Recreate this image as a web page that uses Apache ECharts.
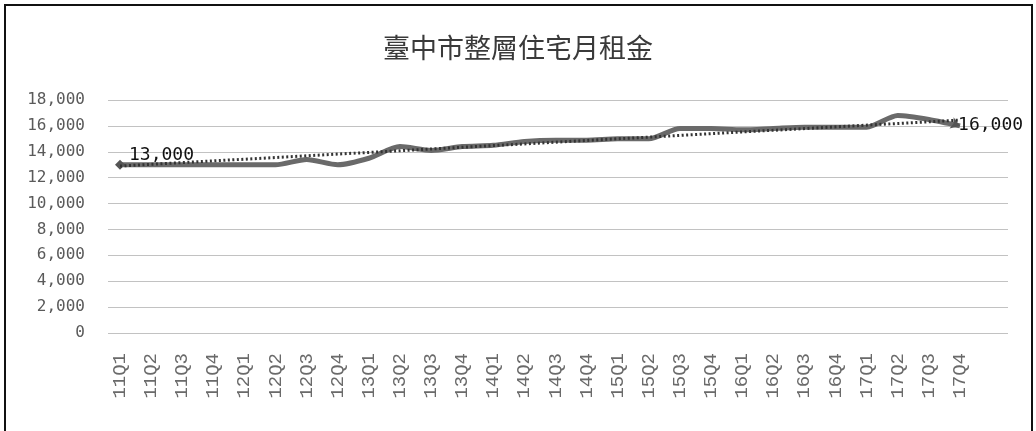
<!DOCTYPE html>
<html>
<head>
<meta charset="utf-8">
<script src="https://cdn.jsdelivr.net/npm/echarts@6/dist/echarts.min.js"></script>
<style>
  html, body { margin: 0; padding: 0; background: #fff; }
  #chart { width: 1036px; height: 431px; }
</style>
</head>
<body>
<div id="chart"></div>
<script>
// Quarterly labels (ROC year + quarter)
const categories = [
  '11Q1','11Q2','11Q3','11Q4','12Q1','12Q2','12Q3','12Q4',
  '13Q1','13Q2','13Q3','13Q4','14Q1','14Q2','14Q3','14Q4',
  '15Q1','15Q2','15Q3','15Q4','16Q1','16Q2','16Q3','16Q4',
  '17Q1','17Q2','17Q3','17Q4'
];

// Monthly rent for whole-floor residences, Taichung (NT$)
const rents = [
  13000, 13000, 13000, 13000, 13000, 13000, 13400, 13000,
  13500, 14400, 14100, 14400, 14500, 14800, 14900, 14900,
  15000, 15000, 15800, 15800, 15700, 15800, 15900, 15900,
  15900, 16800, 16500, 16000
];

// Linear trend line end values (first and last quarter)
const trendStart = 12900;
const trendEnd = 16450;

// Value axis range and step
const yMin = 0;
const yMax = 18000;
const yStep = 2000;

const fmt = v => String(v).replace(/\B(?=(\d{3})+(?!\d))/g, ',');

const last = rents.length - 1;
const lineData = rents.map((v, i) => {
  if (i === 0) {
    return {
      value: v, symbol: 'diamond', symbolSize: 10,
      label: { show: true, position: 'right', distance: 4, offset: [0, -9] }
    };
  }
  if (i === last) {
    return {
      value: v, symbol: 'arrow', symbolRotate: -110, symbolSize: 9,
      label: { show: true, position: 'right', distance: 0, offset: [-4, 1] }
    };
  }
  return { value: v, symbol: 'none' };
});

const chart = echarts.init(document.getElementById('chart'), null, { renderer: 'canvas' });

chart.setOption({
  backgroundColor: '#ffffff',
  animation: false,
  title: {
    text: '臺中市整層住宅月租金',
    left: 'center',
    top: 29,
    textStyle: {
      fontFamily: 'Noto Sans CJK TC',
      fontSize: 27,
      fontWeight: 'normal',
      color: '#3a3a3a'
    }
  },
  graphic: [{
    type: 'rect',
    shape: { x: 5, y: 5, width: 1027, height: 440 },
    style: { fill: 'none', stroke: '#111', lineWidth: 2 },
    silent: true,
    z: 100
  }],
  grid: [
    { left: 108, right: 28, top: 100, bottom: 98 },
    { left: 120, right: 76, top: 100, bottom: 98 }
  ],
  xAxis: [
    { gridIndex: 0, type: 'category', data: categories, show: false },
    {
      gridIndex: 1,
      type: 'category',
      data: categories,
      boundaryGap: false,
      axisLine: { show: false },
      axisTick: { show: false },
      splitLine: { show: false },
      axisLabel: {
        rotate: 90,
        interval: 0,
        margin: 20,
        fontFamily: 'Liberation Mono',
        fontSize: 19,
        color: '#6a6a6a'
      }
    }
  ],
  yAxis: [
    {
      gridIndex: 0,
      type: 'value',
      min: yMin,
      max: yMax,
      interval: yStep,
      axisLine: { show: false },
      axisTick: { show: false },
      axisLabel: {
        margin: 23,
        formatter: fmt,
        fontFamily: 'DejaVu Sans Mono',
        fontSize: 16,
        color: '#5a5a5a'
      },
      splitLine: { lineStyle: { color: '#c2c2c2', width: 1 } }
    },
    {
      gridIndex: 1,
      type: 'value',
      min: yMin,
      max: yMax,
      interval: yStep,
      show: false
    }
  ],
  series: [
    {
      name: '月租金',
      type: 'line',
      xAxisIndex: 1,
      yAxisIndex: 1,
      data: lineData,
      symbol: 'none',
      smooth: 0.25,
      lineStyle: { color: '#6a6a6a', width: 5 },
      itemStyle: { color: '#555' },
      label: {
        formatter: p => fmt(p.value),
        fontFamily: 'DejaVu Sans Mono',
        fontSize: 18,
        color: '#111'
      },
      z: 3
    },
    {
      name: '線性趨勢',
      type: 'line',
      xAxisIndex: 1,
      yAxisIndex: 1,
      data: [[categories[0], trendStart], [categories[last], trendEnd]],
      symbol: 'none',
      lineStyle: { color: '#333', width: 3, type: [2, 2.5] },
      z: 4
    }
  ]
});
</script>
</body>
</html>
